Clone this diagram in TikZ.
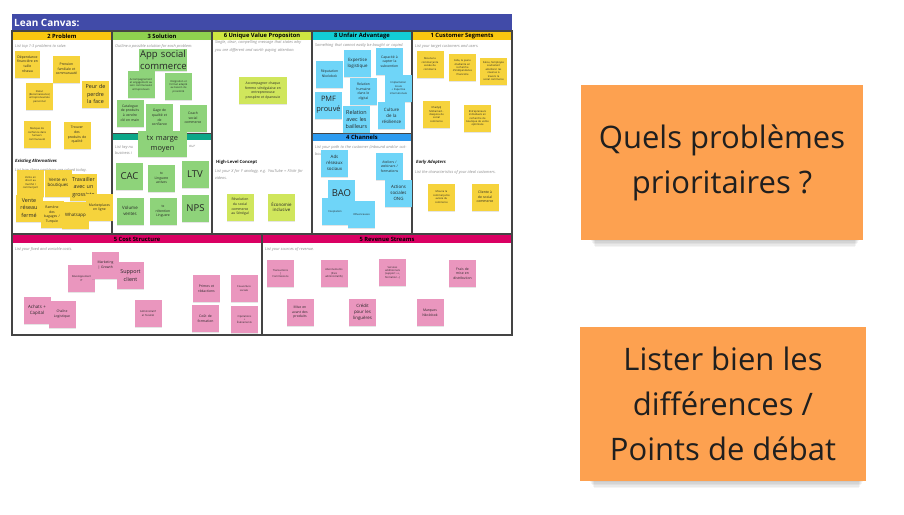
\documentclass[tikz,border=0pt]{standalone}
\usepackage{fontspec}
\setmainfont{Open Sans}
\usetikzlibrary{shadows}
\definecolor{titleblue}{HTML}{414BA8}
\definecolor{hyel}{HTML}{FAC710}
\definecolor{hgrn}{HTML}{8FD14F}
\definecolor{hlime}{HTML}{CEE741}
\definecolor{hcyan}{HTML}{12CDD4}
\definecolor{hteal}{HTML}{0CA789}
\definecolor{hblue}{HTML}{2D9BF0}
\definecolor{hmag}{HTML}{DA0063}
\definecolor{syel}{HTML}{F6D33C}
\definecolor{sgrn}{HTML}{8ED37A}
\definecolor{slime}{HTML}{D0E65C}
\definecolor{scyan}{HTML}{6FD5F8}
\definecolor{spink}{HTML}{EA96BE}
\definecolor{sorange}{HTML}{FDA150}
\definecolor{frame}{HTML}{444444}
\tikzset{
  stk/.style={fill=#1, minimum width=27pt, minimum height=27pt, inner sep=0.8pt,
    align=center, text width=25pt, text=black!85,
    drop shadow={shadow xshift=0.2pt, shadow yshift=-1.4pt, opacity=0.2}},
  f2/.style={font=\fontsize{2.6}{3.4}\selectfont},
  f3/.style={font=\fontsize{3.4}{4.6}\selectfont},
  f4/.style={font=\fontsize{4.4}{5.9}\selectfont},
  f5/.style={font=\fontsize{5.4}{7.4}\selectfont},
  f7/.style={font=\fontsize{7.4}{9.6}\selectfont},
  f9/.style={font=\fontsize{9.5}{11.5}\selectfont},
  hdr/.style={font=\fontsize{5.8}{6}\selectfont\bfseries, text=black, inner sep=0},
  guide/.style={font=\fontsize{3.9}{7.4}\selectfont\itshape, text=black!45, inner sep=0, align=left, anchor=north west},
  blab/.style={font=\fontsize{4.3}{5}\selectfont\bfseries\itshape, text=black!90, inner sep=0, anchor=west},
  bignote/.style={fill=sorange, inner sep=0, align=center, text=black!88,
    font=\fontsize{31}{45}\selectfont},
}
\begin{document}
\begin{tikzpicture}[x=1pt,y=-1pt]
\useasboundingbox (0,0) rectangle (904,514);
\fill[white] (0,0) rectangle (904,514);

% ---------- canvas background and headers ----------
\fill[white] (12,14) rectangle (512,335);
\fill[titleblue] (12,14) rectangle (512,31);
\node[anchor=west, text=white, font=\fontsize{10}{12}\selectfont\bfseries, inner sep=0] (title) at (14,23) {Lean Canvas:};

\fill[hyel] (12,32) rectangle (112,40);
\fill[hgrn] (112,32) rectangle (212,40);
\fill[hlime] (212,32) rectangle (312,40);
\fill[hcyan] (312,32) rectangle (412,40);
\fill[hyel] (412,32) rectangle (512,40);
\node[hdr] (h1) at (62,36) {2 Problem};
\node[hdr] (h2) at (162,36) {3 Solution};
\node[hdr] (h3) at (262,36) {6 Unique Value Propositon};
\node[hdr] (h4) at (362,36) {8 Unfair Advantage};
\node[hdr] (h5) at (462,36) {1 Customer Segments};

\fill[hteal] (112,133) rectangle (212,140);
\fill[hblue] (312,133) rectangle (412,141);
\node[hdr] (h7) at (362,137) {4 Channels};

\fill[hmag] (12,235) rectangle (262,243);
\fill[hmag] (262,235) rectangle (512,243);
\node[hdr] (h8) at (137,239) {5 Cost Structure};
\node[hdr] (h9) at (387,239) {5 Revenue Streams};

% frame lines
\draw[frame, line width=1.2pt] (12,31) rectangle (512,335);
\foreach \xx in {112,212,312,412} \draw[frame, line width=1.2pt] (\xx,31) -- (\xx,234);
\draw[frame, line width=1.4pt] (12,234) -- (512,234);
\draw[frame, line width=1.2pt] (262,234) -- (262,335);
\draw[frame, line width=0.8pt] (112,133) -- (212,133);
\draw[frame, line width=0.8pt] (312,133) -- (412,133);

% ---------- guide texts ----------
\node[guide] (g1) at (15,44) {List top 1-3 problems to solve.};
\node[guide] (g2) at (115,44) {Outline a possible solution for each problem.};
\node[guide, text width=92pt] (g3) at (215,40.5) {Single, clear, compelling message that states why you are different and worth paying attention.};
\node[guide, text width=92pt] (g4) at (315,43.5) {Something that cannot easily be bought or copied.};
\node[guide] (g5) at (415,44) {List your target customers and users.};
\node[blab] (b1) at (15,161) {Existing Alternatives};
\node[guide] (g6) at (15,168) {List how these problems are solved today.};
\node[guide] (g7a) at (115,145.5) {List key nu};
\node[guide] (g7b) at (189,145.5) {our};
\node[guide] (g7c) at (115,151) {business i};
\node[blab, font=\fontsize{4.3}{5}\selectfont\bfseries] (b2) at (216,162) {High-Level Concept};
\node[guide, text width=92pt] (g8) at (215,169) {List your X for Y analogy, e.g. YouTube = Flickr for videos.};
\node[guide, text width=92pt] (g9) at (315,145) {List your path to the customer (inbound and/or outbound).};
\node[blab] (b3) at (416,162) {Early Adopters};
\node[guide] (g10) at (415,170) {List the characteristics of your ideal customers.};
\node[guide] (g11) at (15,247) {List your fixed and variable costs.};
\node[guide] (g12) at (265,247) {List your sources of revenue.};

% ---------- Problem ----------
\node[stk=syel, f3, minimum width=25pt, text width=23pt] (p1) at (27.5,64) {Dépendance\\financière en\\taille\\réseau};
\node[stk=syel, f3] (p2) at (66.5,69) {Pression\\familiale et\\communauté};
\node[stk=syel, f2] (p3) at (39.5,96.5) {Statut\\(Reconnaissance)\\entrepreneuriale\\personnel};
\node[stk=syel, f5] (p4) at (95.5,94) {Peur de\\perdre\\la face};
\node[stk=syel, f2] (p5) at (37,134) {Manque de\\confiance dans\\l'univers\\communauté};
\node[stk=syel, f3] (p6) at (77,135) {Trouver\\des\\produits de\\qualité};
\node[stk=syel, f2] (p7) at (30.5,183) {Vente en\\direct au\\marché /\\commerçant};
\node[stk=syel, f4] (p8) at (58,183) {Vente en\\boutiques};
\node[stk=syel, f5] (p9) at (83.5,187.5) {Travailler\\avec un\\grossiste};
\node[stk=syel, f3] (p13) at (99.5,207.5) {Marketplaces\\en ligne};
\node[stk=syel, f5] (p10) at (29,208) {Vente\\réseau\\fermé};
\node[stk=syel, f3, minimum width=23pt, text width=21pt] (p11) at (52,214.5) {Ramène\\des\\bagages /\\Turquie};
\node[stk=syel, f4] (p12) at (75.5,215.5) {Whatsapp};

% ---------- Solution ----------
\node[stk=sgrn, f9, minimum width=48pt, minimum height=22pt, text width=46pt] (s1) at (163,60) {App social\\commerce};
\node[stk=sgrn, f2] (s2) at (141,84.5) {Accompagnement\\et engagement au\\sein communauté\\entrepreneurs};
\node[stk=sgrn, f2] (s3) at (178.5,86.5) {Intégration et\\format adapté\\au besoin de\\proximité};
\node[stk=sgrn, f3] (s4) at (130,113) {Catalogue\\de produits\\à vendre\\clé en main};
\node[stk=sgrn, f3] (s5) at (159.5,117.5) {Gage de\\qualité et\\de\\confiance};
\node[stk=sgrn, f3] (s6) at (193,118) {Coach\\social\\commerce};

% ---------- Key Metrics ----------
\node[stk=sgrn, f7, minimum width=49pt, minimum height=26pt, text width=47pt] (m1) at (162.5,144) {tx marge\\moyen};
\node[stk=sgrn, f9] (m2) at (129.5,176.5) {CAC};
\node[stk=sgrn, f3] (m3) at (161.5,178) {tx\\Linguere\\actives};
\node[stk=sgrn, f9] (m4) at (195,174.5) {LTV};
\node[stk=sgrn, f4] (m5) at (130,211) {Volume\\ventes};
\node[stk=sgrn, f3] (m6) at (163,211.5) {tx\\rétention\\Linguere};
\node[stk=sgrn, f9] (m7) at (195.5,208) {NPS};

% ---------- UVP ----------
\node[stk=slime, f3, minimum width=48pt, minimum height=27pt, text width=46pt] (u1) at (263,90.5) {Accompagner chaque\\femme sénégalaise en\\entrepreneuse\\prospère et épanouie};
\node[stk=slime, f3] (u2) at (240,207) {Révolution\\du social\\commerce\\au Sénégal};
\node[stk=slime, f4] (u3) at (281.5,207) {Économie\\inclusive};

% ---------- Unfair Advantage ----------
\node[stk=scyan, f3] (a1) at (329.5,74) {Réputation\\Nkolobok};
\node[stk=scyan, f4] (a2) at (357.5,63.5) {Expertise\\logistique};
\node[stk=scyan, f3] (a3) at (389.5,61.5) {Capacité à\\capter la\\subvention};
\node[stk=scyan, f3] (a4) at (363.5,91.5) {Relation\\humaine\\dans le\\digital};
\node[stk=scyan, f2] (a5) at (398.5,88) {Implantation\\locale\\+ Expertise\\internationale};
\node[stk=scyan, f7] (a6) at (328.5,105) {PMF\\prouvé};
\node[stk=scyan, f5] (a7) at (356.5,119.5) {Relation\\avec les\\bailleurs};
\node[stk=scyan, f4] (a8) at (391.5,115.5) {Culture\\de la\\résilience};

% ---------- Channels ----------
\node[stk=scyan, f4] (c1) at (334.5,163) {Ads\\réseaux\\sociaux};
\node[stk=scyan, f3] (c2) at (389.5,166.5) {Ateliers /\\webinars /\\formations};
\node[stk=scyan, f9] (c4) at (341.5,193) {BAO};
\node[stk=scyan, f4] (c3) at (398.5,193) {Actions\\sociales\\ONG};
\node[stk=scyan, f2] (c5) at (335,211.5) {Cooptation};
\node[stk=scyan, f2] (c6) at (361.5,214.5) {Influenceuses};

% ---------- Customer Segments ----------
\node[stk=syel, f2] (cs1) at (430,64) {Mouna la\\commerçante\\avisée du\\commerce};
\node[stk=syel, f2] (cs2) at (462.5,67.5) {Aïda, la jeune\\étudiante en\\recherche\\d'indépendance\\financière};
\node[stk=syel, f2] (cs3) at (493.5,71) {Fatou, l'employée\\souhaitant\\améliorer les\\revenus à\\travers le\\social commerce};
\node[stk=syel, f2] (cs4) at (436.5,114.5) {Khadydj\\Mohamed -\\diaspora de\\social\\commerce};
\node[stk=syel, f2] (cs5) at (477.5,118.5) {Entrepreneurs\\individuels en\\recherche de\\boutique de vente\\optimisée};
\node[stk=syel, f2] (cs6) at (441.5,197) {Mouna la\\commerçante\\avisée du\\commerce};
\node[stk=syel, f3] (cs7) at (485,197) {Cliente à\\de social\\commerce};

% ---------- Cost Structure ----------
\node[stk=spink, f2] (k1) at (81.5,278.5) {Développement\\IT};
\node[stk=spink, f3] (k2) at (105.5,265) {Marketing\\| Growth};
\node[stk=spink, f5] (k3) at (130.5,275.5) {Support\\client};
\node[stk=spink, f4] (k4) at (37,310.5) {Achats +\\Capital};
\node[stk=spink, f3] (k5) at (62,314) {Chaîne\\Logistique};
\node[stk=spink, f2] (k6) at (148,313.5) {Administratif\\et fiscalité};
\node[stk=spink, f3] (k7) at (206.5,288.5) {Primes et\\rédactions};
\node[stk=spink, f2] (k8) at (244,288.5) {Couverture\\sociale};
\node[stk=spink, f3] (k9) at (205.5,318.5) {Coût de\\formation};
\node[stk=spink, f2] (k10) at (244.5,319.5) {Opérations\\+\\Évènements};

% ---------- Revenue Streams ----------
\node[stk=spink, f2] (r1) at (280.5,273.5) {Transactions\\|\\Commissions};
\node[stk=spink, f2] (r2) at (334,273.5) {Abonnements\\(frais\\administratifs)};
\node[stk=spink, f2] (r3) at (392.5,272.5) {Services\\additionnels\\(support ++,\\formation...)};
\node[stk=spink, f3] (r4) at (462.5,273.5) {Frais de\\mise en\\distribution};
\node[stk=spink, f3] (r5) at (300,312.5) {Mise en\\avant des\\produits};
\node[stk=spink, f4] (r6) at (362.5,312.5) {Crédit\\pour les\\linguères};
\node[stk=spink, f3] (r7) at (430,312.5) {Marques\\Nkolobok};

% ---------- big orange notes ----------
\foreach \i in {1,...,5} {
  \fill[black, opacity=0.045] (590+\i,228+\i*0.6) rectangle (860-\i,240+\i*1.4);
  \fill[black, opacity=0.045] (589+\i,469+\i*0.6) rectangle (864-\i,481+\i*1.4);
}
\node[bignote, minimum width=282pt, minimum height=155pt] (n1) at (722,162.5) {Quels problèmes\\prioritaires ?};
\node[bignote, minimum width=286pt, minimum height=154pt] (n2) at (723,404) {Lister bien les\\différences /\\Points de débat};
\end{tikzpicture}
\end{document}
